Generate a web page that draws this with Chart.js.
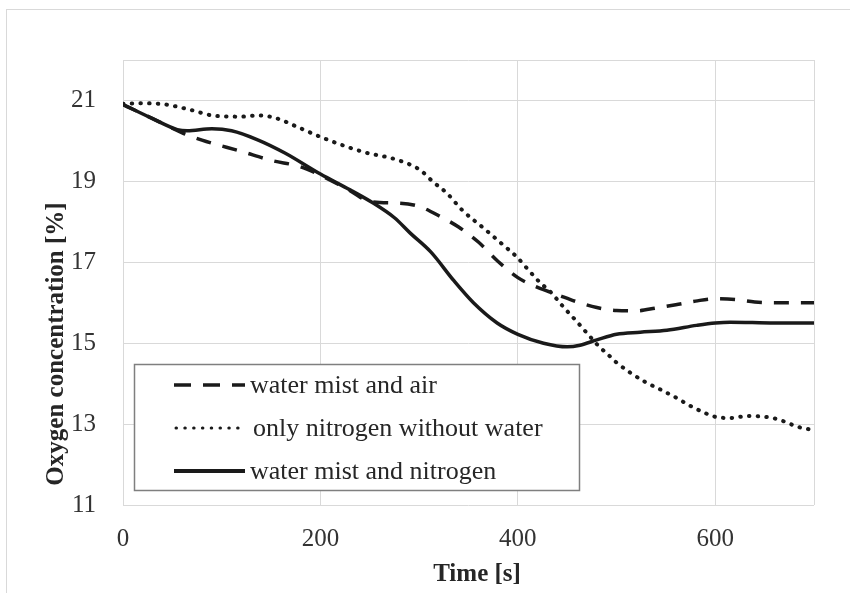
<!DOCTYPE html>
<html>
<head>
<meta charset="utf-8">
<script src="https://cdn.jsdelivr.net/npm/chart.js@4"></script>
<style>
  html, body { margin: 0; padding: 0; background: #fff; overflow: hidden; }
  canvas { display: block; }
</style>
</head>
<body>
<canvas id="o2Chart" width="850" height="593"></canvas>
<script>
// series: water mist and air (dashed)
const airTime = [0, 30, 60, 80, 120, 150, 180, 200, 230, 250, 280, 300, 320, 340, 360, 380, 400, 420, 440, 460, 480, 500, 520, 540, 560, 580, 600, 620, 640, 660, 700];
const airO2   = [20.9, 20.55, 20.2, 20.02, 19.74, 19.52, 19.36, 19.15, 18.77, 18.5, 18.46, 18.38, 18.15, 17.87, 17.5, 17.02, 16.62, 16.38, 16.2, 16.02, 15.88, 15.81, 15.8, 15.87, 15.95, 16.04, 16.1, 16.08, 16.02, 16.0, 16.0];

// series: only nitrogen without water (dotted)
const n2Time = [0, 20, 43, 68, 93, 120, 137, 154, 179, 203, 243, 278, 301, 314, 328, 344, 365, 385, 399, 410, 422, 433, 446, 458, 470, 481, 493, 500, 514, 529, 544, 559, 574, 590, 600, 615, 633, 650, 660, 668, 684, 700];
const n2O2   = [20.92, 20.93, 20.9, 20.77, 20.62, 20.6, 20.63, 20.57, 20.32, 20.07, 19.73, 19.53, 19.28, 18.99, 18.71, 18.28, 17.85, 17.43, 17.13, 16.83, 16.51, 16.27, 15.9, 15.58, 15.25, 14.95, 14.68, 14.52, 14.27, 14.04, 13.86, 13.67, 13.46, 13.27, 13.18, 13.15, 13.2, 13.18, 13.14, 13.08, 12.93, 12.85];

// series: water mist and nitrogen (solid)
const mixTime = [0, 30, 55, 65, 90, 110, 137, 164, 200, 230, 253, 275, 291, 312, 335, 355, 379, 400, 426, 450, 463, 480, 500, 524, 551, 581, 600, 615, 660, 700];
const mixO2   = [20.9, 20.55, 20.28, 20.25, 20.3, 20.25, 20.02, 19.7, 19.18, 18.79, 18.47, 18.1, 17.72, 17.25, 16.55, 16.0, 15.5, 15.22, 15.0, 14.91, 14.95, 15.08, 15.22, 15.27, 15.32, 15.44, 15.5, 15.52, 15.5, 15.5];

const seriesLabels = ['water mist and air', 'only nitrogen without water', 'water mist and nitrogen'];
const xTicks = [0, 200, 400, 600, 700];
const yTicks = [11, 13, 15, 17, 19, 21, 22];

const lineColor = '#1a1a1a';
const serif = 'Liberation Serif, Times New Roman, serif';

const toPoints = (xs, ys) => xs.map((x, i) => ({x: x, y: ys[i]}));

const styles = [
    {borderDash: [15, 12], borderWidth: 3.5, borderCapStyle: 'butt'},
    {borderDash: [0.5, 8.2], borderWidth: 4, borderCapStyle: 'round'},
    {borderDash: [], borderWidth: 3.5, borderCapStyle: 'butt'}
];

const extras = {
    id: 'extras',
    beforeDraw(chart) {
        const ctx = chart.ctx;
        ctx.save();
        ctx.fillStyle = '#fff';
        ctx.fillRect(0, 0, chart.width, chart.height);
        ctx.strokeStyle = '#d9d9d9';
        ctx.lineWidth = 1;
        ctx.strokeRect(6.5, 9.5, 1000, 1000);
        ctx.restore();
    },
    afterDatasetsDraw(chart) {
        const ctx = chart.ctx;
        ctx.save();
        // legend box
        ctx.fillStyle = '#fff';
        ctx.fillRect(134, 364, 445, 126);
        ctx.strokeStyle = '#7f7f7f';
        ctx.lineWidth = 1.5;
        ctx.strokeRect(134.5, 364.5, 445, 126);
        const rows = [385, 428, 471];
        const sampleW = [[3.5, [17, 12], 'butt'], [3, [0.5, 8.3], 'round'], [4, [], 'butt']];
        chart.data.datasets.forEach((ds, i) => {
            ctx.strokeStyle = lineColor;
            ctx.lineWidth = sampleW[i][0];
            ctx.setLineDash(sampleW[i][1]);
            ctx.lineCap = sampleW[i][2];
            ctx.beginPath();
            ctx.moveTo(i === 1 ? 176 : 174, rows[i]);
            ctx.lineTo(245, rows[i]);
            ctx.stroke();
            ctx.setLineDash([]);
            ctx.fillStyle = '#262626';
            ctx.font = '26px ' + serif;
            ctx.textBaseline = 'middle';
            ctx.textAlign = 'left';
            ctx.fillText(ds.label, i === 1 ? 253 : 250, rows[i] + 1);
        });
        ctx.restore();
    },
    afterDraw(chart) {
        const ctx = chart.ctx;
        ctx.save();
        ctx.fillStyle = '#262626';
        ctx.font = 'bold 25px ' + serif;
        ctx.textAlign = 'center';
        ctx.textBaseline = 'middle';
        ctx.fillText('Time [s]', 477, 575);
        ctx.translate(57, 344);
        ctx.rotate(-Math.PI / 2);
        ctx.fillText('Oxygen concentration [%]', 0, 0);
        ctx.restore();
    }
};

new Chart(document.getElementById('o2Chart'), {
    type: 'line',
    data: {
        datasets: [
            Object.assign({label: seriesLabels[0], data: toPoints(airTime, airO2)}, styles[0]),
            Object.assign({label: seriesLabels[1], data: toPoints(n2Time, n2O2)}, styles[1]),
            Object.assign({label: seriesLabels[2], data: toPoints(mixTime, mixO2)}, styles[2])
        ].map(ds => Object.assign(ds, {
            borderColor: lineColor,
            pointRadius: 0,
            fill: false,
            cubicInterpolationMode: 'monotone'
        }))
    },
    options: {
        responsive: false,
        animation: false,
        devicePixelRatio: 1,
        layout: {padding: {left: 0, top: 60, right: 36, bottom: 0}},
        plugins: {legend: {display: false}, tooltip: {enabled: false}},
        scales: {
            x: {
                type: 'linear',
                min: 0,
                max: 700,
                afterBuildTicks: s => { s.ticks = xTicks.map(v => ({value: v})); },
                afterFit: s => { s.height = 88; },
                grid: {color: '#d9d9d9', lineWidth: 1, drawTicks: false},
                border: {display: false},
                ticks: {
                    padding: 19,
                    color: '#333',
                    font: {family: serif, size: 25},
                    maxRotation: 0,
                    autoSkip: false,
                    callback: v => v === 700 ? '' : v
                }
            },
            y: {
                min: 11,
                max: 22,
                afterBuildTicks: s => { s.ticks = yTicks.map(v => ({value: v})); },
                afterFit: s => { s.width = 123; },
                grid: {color: '#d9d9d9', lineWidth: 1, drawTicks: false},
                border: {display: false},
                ticks: {
                    padding: 27,
                    color: '#333',
                    font: {family: serif, size: 25},
                    autoSkip: false,
                    callback: v => v === 22 ? '' : v
                }
            }
        }
    },
    plugins: [extras]
});
</script>
</body>
</html>
